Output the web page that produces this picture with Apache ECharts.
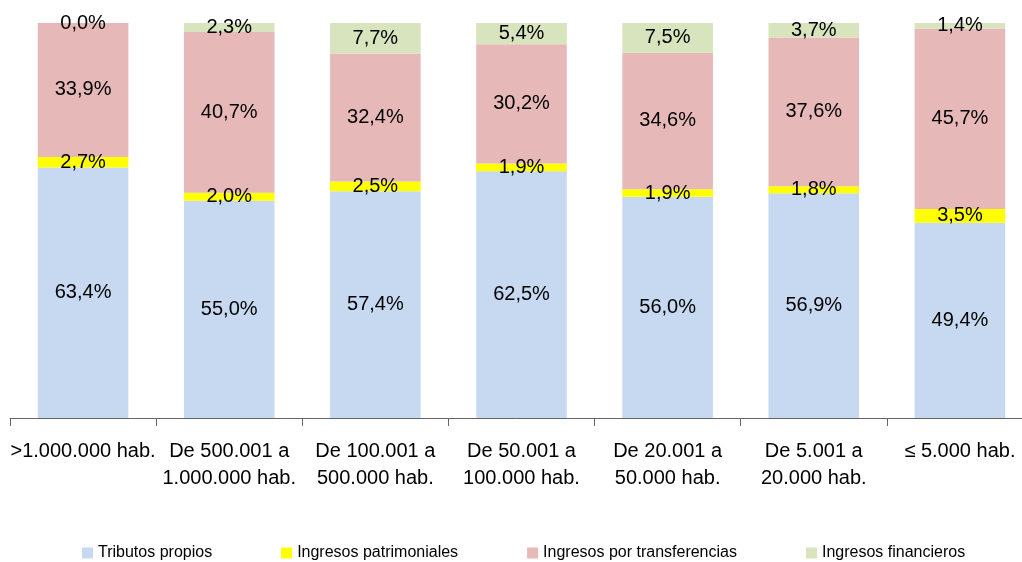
<!DOCTYPE html>
<html>
<head>
<meta charset="utf-8">
<script src="https://cdn.jsdelivr.net/npm/echarts@6/dist/echarts.min.js"></script>
<style>
html,body{margin:0;padding:0;background:#fff;}
#chart{width:1022px;height:562px;}
</style>
</head>
<body>
<div id="chart"></div>
<script>
const categories = [
  '>1.000.000 hab.',
  'De 500.001 a\n1.000.000 hab.',
  'De 100.001 a\n500.000 hab.',
  'De 50.001 a\n100.000 hab.',
  'De 20.001 a\n50.000 hab.',
  'De 5.001 a\n20.000 hab.',
  '≤ 5.000 hab.'
];
const seriesNames = ['Tributos propios', 'Ingresos patrimoniales', 'Ingresos por transferencias', 'Ingresos financieros'];
const tributosPropios = [63.4, 55.0, 57.4, 62.5, 56.0, 56.9, 49.4];
const ingresosPatrimoniales = [2.7, 2.0, 2.5, 1.9, 1.9, 1.8, 3.5];
const ingresosTransferencias = [33.9, 40.7, 32.4, 30.2, 34.6, 37.6, 45.7];
const ingresosFinancieros = [0.0, 2.3, 7.7, 5.4, 7.5, 3.7, 1.4];

const FONT = "'Liberation Sans Narrow', 'Arial Narrow', 'Liberation Sans', Arial, sans-serif";
const colors = ['#C6D9F1', '#FFFF00', '#E6B9B8', '#D7E4BD'];
const allData = [tributosPropios, ingresosPatrimoniales, ingresosTransferencias, ingresosFinancieros];

const chart = echarts.init(document.getElementById('chart'), null, {renderer: 'canvas'});
chart.setOption({
  animation: false,
  backgroundColor: '#ffffff',
  textStyle: {fontFamily: FONT},
  grid: {left: 10, right: -11, top: 23, bottom: 144, containLabel: false, outerBoundsMode: 'none'},
  legend: {
    data: seriesNames,
    top: 545,
    left: 82,
    width: 930,
    padding: 0,
    itemWidth: 11,
    itemHeight: 11,
    itemGap: 69,
    icon: 'rect',
    textStyle: {fontFamily: FONT, fontSize: 16, color: '#000'}
  },
  xAxis: {
    type: 'category',
    data: categories,
    axisLine: {show: true, lineStyle: {color: '#666666', width: 1}},
    axisTick: {show: true, length: 8, lineStyle: {color: '#666666'}},
    axisLabel: {fontFamily: FONT, fontSize: 20, color: '#000', margin: 20, lineHeight: 27, interval: 0}
  },
  yAxis: {type: 'value', min: 0, max: 100, show: false, splitLine: {show: false}},
  series: allData.map((d, i) => ({
    name: seriesNames[i],
    type: 'bar',
    stack: 'total',
    data: d,
    barWidth: '62%',
    itemStyle: {color: colors[i]},
    label: {
      show: true,
      position: 'inside',
      fontFamily: FONT,
      fontSize: 20,
      color: '#000',
      formatter: p => p.value.toFixed(1).replace('.', ',') + '%'
    }
  }))
});
</script>
</body>
</html>
